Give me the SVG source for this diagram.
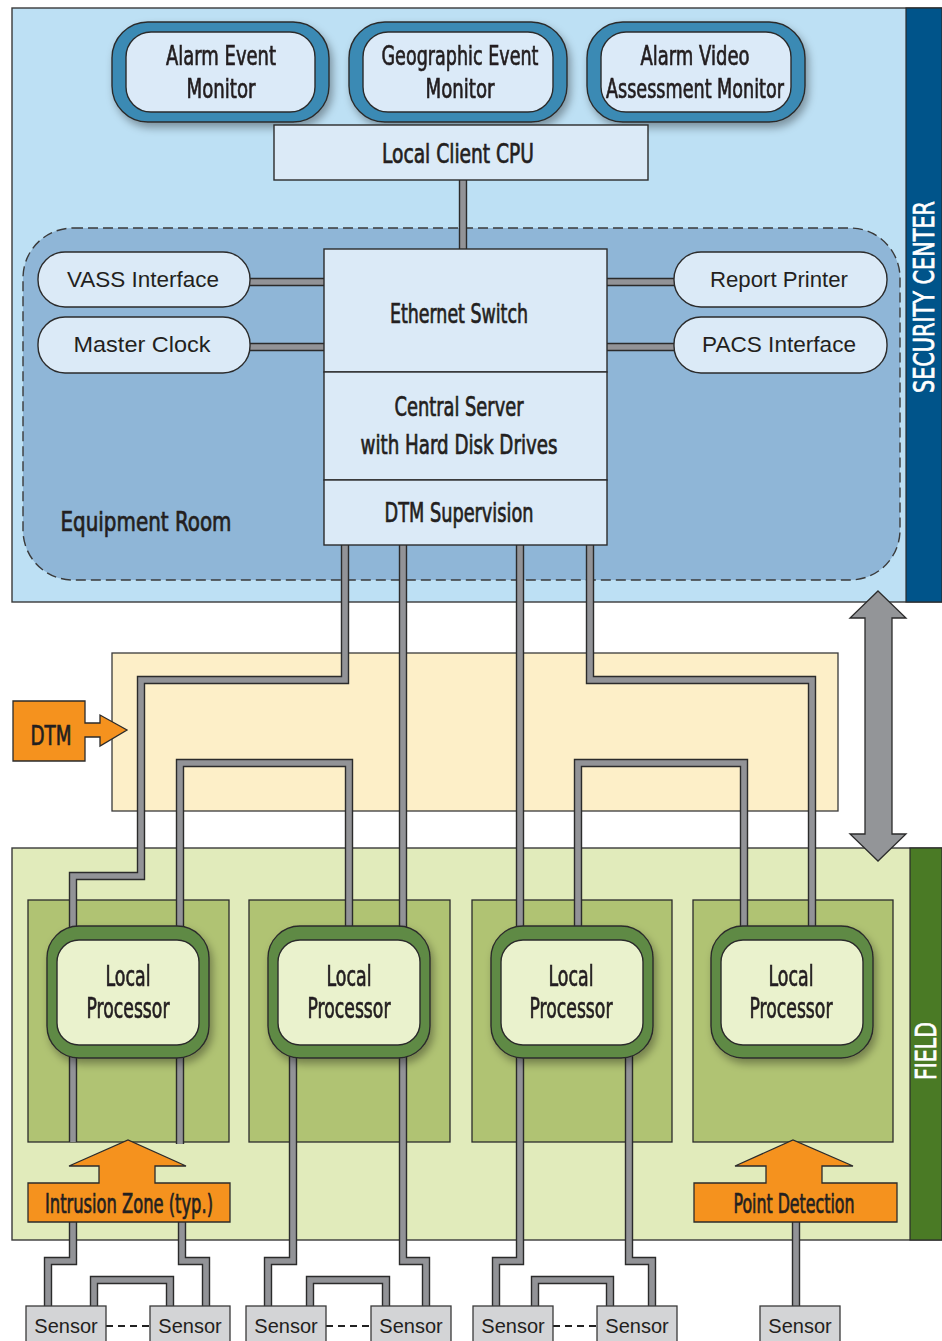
<svg xmlns="http://www.w3.org/2000/svg" width="942" height="1341" viewBox="0 0 942 1341">
<defs>
<style>
.cond{font-family:'Liberation Sans Narrow','DejaVu Sans Condensed','Roboto Condensed','Liberation Sans',sans-serif;font-size:27px;fill:#231f20;stroke:#231f20;stroke-width:0.7px;text-anchor:middle}
.lp{font-size:28px}
.reg{font-family:'Liberation Sans','Noto Sans',sans-serif;font-size:22px;fill:#231f20;text-anchor:middle}
.side{font-family:'Liberation Sans Narrow','DejaVu Sans Condensed','Liberation Sans',sans-serif;font-size:29px;fill:#ffffff;stroke:#ffffff;stroke-width:0.7px;text-anchor:middle}
.wo{fill:none;stroke:#2b2b2b;stroke-width:8.4;stroke-linejoin:miter}
.wi{fill:none;stroke:#929397;stroke-width:5.6;stroke-linejoin:miter}
.box{fill:#dbeaf7;stroke:#2b2b2b;stroke-width:1.4}
.monO{fill:#3b8ab4;stroke:#2b2b2b;stroke-width:1.4}
.monI{fill:#dbeaf8;stroke:#2b2b2b;stroke-width:1.4}
.lpO{fill:#5f8a45;stroke:#2b2b2b;stroke-width:1.4}
.lpI{fill:#eaf2cd;stroke:#2b2b2b;stroke-width:1.4}
.gbox{fill:#b0c373;stroke:#2b2b2b;stroke-width:1.3}
.orange{fill:#f5921e;stroke:#2b2b2b;stroke-width:1.3}
.sensor{fill:#d3d4d6;stroke:#3a3a3a;stroke-width:1.3}
.dash{fill:none;stroke:#222;stroke-width:2;stroke-dasharray:7 5}
</style>
<filter id="sh" x="-20%" y="-20%" width="150%" height="160%">
<feDropShadow dx="3" dy="5" stdDeviation="4" flood-color="#000" flood-opacity="0.35"/>
</filter>
<path id="c1" d="M463 180 V249"/>
<path id="c2" d="M250 282 H324"/>
<path id="c3" d="M250 347 H324"/>
<path id="c4" d="M607 282 H674"/>
<path id="c5" d="M607 347 H674"/>
<path id="w1" d="M345 545 V680 H141 V876 H73 V930"/>
<path id="w2" d="M403 545 V930"/>
<path id="w3" d="M180 930 V763 H349 V930"/>
<path id="w4" d="M520 545 V930"/>
<path id="w5" d="M590 545 V680 H812 V930"/>
<path id="w6" d="M578 930 V763 H744 V930"/>
<path id="b1" d="M73 1050 V1142"/>
<path id="b2" d="M180 1050 V1144"/>
<path id="b3" d="M73 1222 V1261 H48 V1306"/>
<path id="b4" d="M182 1222 V1261 H206 V1306"/>
<path id="b5" d="M94 1306 V1280 H170 V1306"/>
<path id="b6" d="M293 1050 V1261 H268 V1306"/>
<path id="b7" d="M403 1050 V1261 H426 V1306"/>
<path id="b8" d="M310 1306 V1280 H386 V1306"/>
<path id="b9" d="M520 1050 V1261 H496 V1306"/>
<path id="b10" d="M629 1050 V1261 H652 V1306"/>
<path id="b11" d="M535 1306 V1280 H610 V1306"/>
<path id="b12" d="M796 1222 V1306"/>
</defs>

<rect width="942" height="1341" fill="#ffffff"/>

<!-- Security center panel -->
<g id="security-center">
<rect x="12" y="8" width="930" height="594" fill="#bde0f4" stroke="#3a3a3a" stroke-width="1.4"/>
<rect x="906" y="8" width="36" height="594" fill="#00548a" stroke="#2b2b2b" stroke-width="1.2"/>
<text class="side" transform="translate(934 297) rotate(-90)" textLength="192" lengthAdjust="spacingAndGlyphs">SECURITY CENTER</text>
</g>

<g id="equipment-room">
<rect x="23" y="228" width="877" height="352" rx="50" ry="50" fill="#8fb6d7" stroke="#3a3a3a" stroke-width="1.4" stroke-dasharray="10 5"/>
<text class="cond" x="146" y="531" textLength="171" lengthAdjust="spacingAndGlyphs">Equipment Room</text>
</g>

<g id="dtm-zone">
<rect x="112" y="653" width="726" height="158" fill="#fdefc8" stroke="#3a3a3a" stroke-width="1.3"/>
</g>

<g id="field">
<rect x="12" y="848" width="930" height="392" fill="#e1ebbb" stroke="#3a3a3a" stroke-width="1.4"/>
<rect x="910" y="848" width="32" height="392" fill="#4a7a25" stroke="#2b2b2b" stroke-width="1.2"/>
<text class="side" transform="translate(936 1051) rotate(-90)" textLength="58" lengthAdjust="spacingAndGlyphs">FIELD</text>
<rect class="gbox" x="28" y="900" width="201" height="242"/>
<rect class="gbox" x="249" y="900" width="201" height="242"/>
<rect class="gbox" x="472" y="900" width="200" height="242"/>
<rect class="gbox" x="693" y="900" width="200" height="242"/>
</g>

<!-- Connectors -->
<g id="connectors">
<g class="wo">
<use href="#c1"/><use href="#c2"/><use href="#c3"/><use href="#c4"/><use href="#c5"/>
<use href="#w1"/><use href="#w2"/><use href="#w3"/><use href="#w4"/><use href="#w5"/><use href="#w6"/>
<use href="#b1"/><use href="#b2"/><use href="#b3"/><use href="#b4"/><use href="#b5"/><use href="#b6"/>
<use href="#b7"/><use href="#b8"/><use href="#b9"/><use href="#b10"/><use href="#b11"/><use href="#b12"/>
</g>
<g class="wi">
<use href="#c1"/><use href="#c2"/><use href="#c3"/><use href="#c4"/><use href="#c5"/>
<use href="#w1"/><use href="#w2"/><use href="#w3"/><use href="#w4"/><use href="#w5"/><use href="#w6"/>
<use href="#b1"/><use href="#b2"/><use href="#b3"/><use href="#b4"/><use href="#b5"/><use href="#b6"/>
<use href="#b7"/><use href="#b8"/><use href="#b9"/><use href="#b10"/><use href="#b11"/><use href="#b12"/>
</g>
<path class="dash" d="M106 1326 H150"/>
<path class="dash" d="M326 1326 H371"/>
<path class="dash" d="M553 1326 H597"/>
</g>

<g id="sync-arrow">
<path d="M878 591 L906 618 H892 V834 H906 L878 861 L850 834 H865 V618 H850 Z" fill="#939598" stroke="#2b2b2b" stroke-width="1.3"/>
</g>

<!-- Monitors -->
<g id="alarm-event-monitor" filter="url(#sh)">
<rect class="monO" x="112" y="22" width="217" height="100" rx="36"/>
<rect class="monI" x="126" y="32" width="189" height="80" rx="25"/>
<text class="cond" x="221" y="65" textLength="110" lengthAdjust="spacingAndGlyphs">Alarm Event</text>
<text class="cond" x="221" y="98" textLength="69" lengthAdjust="spacingAndGlyphs">Monitor</text>
</g>
<g id="geographic-event-monitor" filter="url(#sh)">
<rect class="monO" x="349" y="22" width="218" height="100" rx="36"/>
<rect class="monI" x="363" y="32" width="190" height="80" rx="25"/>
<text class="cond" x="460" y="65" textLength="157" lengthAdjust="spacingAndGlyphs">Geographic Event</text>
<text class="cond" x="460" y="98" textLength="69" lengthAdjust="spacingAndGlyphs">Monitor</text>
</g>
<g id="alarm-video-monitor" filter="url(#sh)">
<rect class="monO" x="587" y="22" width="218" height="100" rx="36"/>
<rect class="monI" x="601" y="32" width="190" height="80" rx="25"/>
<text class="cond" x="695" y="65" textLength="109" lengthAdjust="spacingAndGlyphs">Alarm Video</text>
<text class="cond" x="695" y="98" textLength="178" lengthAdjust="spacingAndGlyphs">Assessment Monitor</text>
</g>

<g id="local-client-cpu">
<rect class="box" x="274" y="125" width="374" height="55"/>
<text class="cond" x="458" y="163" textLength="152" lengthAdjust="spacingAndGlyphs">Local Client CPU</text>
</g>

<g id="ethernet-switch">
<rect class="box" x="324" y="249" width="283" height="123"/>
<text class="cond" x="459" y="323" textLength="138" lengthAdjust="spacingAndGlyphs">Ethernet Switch</text>
</g>
<g id="central-server">
<rect class="box" x="324" y="372" width="283" height="108"/>
<text class="cond" x="459" y="416" textLength="129" lengthAdjust="spacingAndGlyphs">Central Server</text>
<text class="cond" x="459" y="454" textLength="197" lengthAdjust="spacingAndGlyphs">with Hard Disk Drives</text>
</g>
<g id="dtm-supervision">
<rect class="box" x="324" y="480" width="283" height="65"/>
<text class="cond" x="459" y="522" textLength="149" lengthAdjust="spacingAndGlyphs">DTM Supervision</text>
</g>

<g id="vass-interface">
<rect class="box" x="38" y="252" width="212" height="55" rx="27"/>
<text class="reg" x="143" y="287" textLength="152" lengthAdjust="spacingAndGlyphs">VASS Interface</text>
</g>
<g id="master-clock">
<rect class="box" x="38" y="317" width="212" height="56" rx="27"/>
<text class="reg" x="142" y="352" textLength="137" lengthAdjust="spacingAndGlyphs">Master Clock</text>
</g>
<g id="report-printer">
<rect class="box" x="674" y="252" width="213" height="55" rx="27"/>
<text class="reg" x="779" y="287" textLength="138" lengthAdjust="spacingAndGlyphs">Report Printer</text>
</g>
<g id="pacs-interface">
<rect class="box" x="674" y="317" width="213" height="56" rx="27"/>
<text class="reg" x="779" y="352" textLength="154" lengthAdjust="spacingAndGlyphs">PACS Interface</text>
</g>

<g id="dtm-label">
<path class="orange" d="M13 701 H85 V723 H100 V715 L127 730 L100 746 V737 H85 V761 H13 Z"/>
<text class="cond" x="51" y="745" textLength="41" lengthAdjust="spacingAndGlyphs">DTM</text>
</g>

<!-- Local processors -->
<g id="local-processor-1" filter="url(#sh)">
<rect class="lpO" x="47" y="926" width="162" height="132" rx="32"/>
<rect class="lpI" x="57" y="940" width="142" height="105" rx="22"/>
<text class="cond lp" x="128" y="986" textLength="45" lengthAdjust="spacingAndGlyphs">Local</text>
<text class="cond lp" x="128" y="1018" textLength="83" lengthAdjust="spacingAndGlyphs">Processor</text>
</g>
<g id="local-processor-2" filter="url(#sh)">
<rect class="lpO" x="268" y="926" width="162" height="132" rx="32"/>
<rect class="lpI" x="278" y="940" width="142" height="105" rx="22"/>
<text class="cond lp" x="349" y="986" textLength="45" lengthAdjust="spacingAndGlyphs">Local</text>
<text class="cond lp" x="349" y="1018" textLength="83" lengthAdjust="spacingAndGlyphs">Processor</text>
</g>
<g id="local-processor-3" filter="url(#sh)">
<rect class="lpO" x="491" y="926" width="162" height="132" rx="32"/>
<rect class="lpI" x="501" y="940" width="142" height="105" rx="22"/>
<text class="cond lp" x="571" y="986" textLength="45" lengthAdjust="spacingAndGlyphs">Local</text>
<text class="cond lp" x="571" y="1018" textLength="83" lengthAdjust="spacingAndGlyphs">Processor</text>
</g>
<g id="local-processor-4" filter="url(#sh)">
<rect class="lpO" x="711" y="926" width="162" height="132" rx="32"/>
<rect class="lpI" x="721" y="940" width="142" height="105" rx="22"/>
<text class="cond lp" x="791" y="986" textLength="45" lengthAdjust="spacingAndGlyphs">Local</text>
<text class="cond lp" x="791" y="1018" textLength="83" lengthAdjust="spacingAndGlyphs">Processor</text>
</g>

<g id="intrusion-zone">
<path class="orange" d="M28 1183 H99 V1166 H69 L128 1140 L186 1166 H155 V1183 H230 V1222 H28 Z"/>
<text class="cond" x="129" y="1213" textLength="168" lengthAdjust="spacingAndGlyphs">Intrusion Zone (typ.)</text>
</g>
<g id="point-detection">
<path class="orange" d="M694 1183 H766 V1166 H735 L793 1140 L853 1166 H822 V1183 H897 V1222 H694 Z"/>
<text class="cond" x="794" y="1213" textLength="121" lengthAdjust="spacingAndGlyphs">Point Detection</text>
</g>

<!-- Sensors -->
<g id="sensor-1"><rect class="sensor" x="26" y="1306" width="80" height="40"/><text class="reg" x="66" y="1333" style="font-size:20px">Sensor</text></g>
<g id="sensor-2"><rect class="sensor" x="150" y="1306" width="80" height="40"/><text class="reg" x="190" y="1333" style="font-size:20px">Sensor</text></g>
<g id="sensor-3"><rect class="sensor" x="246" y="1306" width="80" height="40"/><text class="reg" x="286" y="1333" style="font-size:20px">Sensor</text></g>
<g id="sensor-4"><rect class="sensor" x="371" y="1306" width="80" height="40"/><text class="reg" x="411" y="1333" style="font-size:20px">Sensor</text></g>
<g id="sensor-5"><rect class="sensor" x="473" y="1306" width="80" height="40"/><text class="reg" x="513" y="1333" style="font-size:20px">Sensor</text></g>
<g id="sensor-6"><rect class="sensor" x="597" y="1306" width="80" height="40"/><text class="reg" x="637" y="1333" style="font-size:20px">Sensor</text></g>
<g id="sensor-7"><rect class="sensor" x="760" y="1306" width="80" height="40"/><text class="reg" x="800" y="1333" style="font-size:20px">Sensor</text></g>
</svg>
